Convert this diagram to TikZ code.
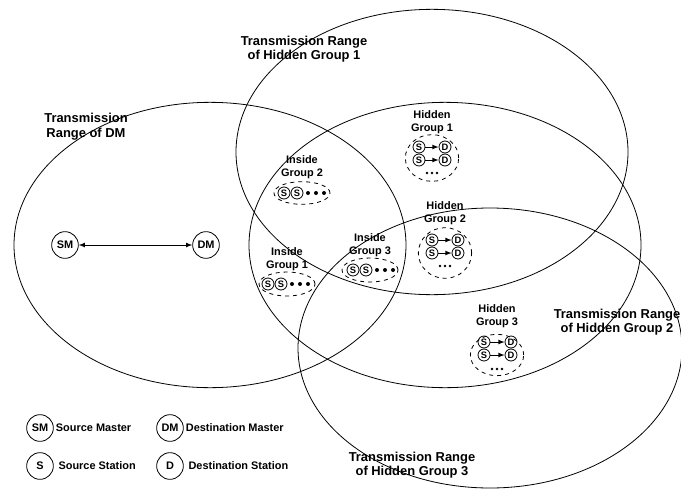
\documentclass[tikz,border=0pt]{standalone}
\usepackage{fontspec}
\setmainfont{Liberation Sans}
\usetikzlibrary{positioning}
\tikzset{
  master/.style={circle,draw,semithick,inner sep=0pt,minimum size=20pt,font=\fontsize{8.2}{8.2}\selectfont\bfseries},
  station/.style={circle,draw,inner sep=0pt,minimum size=9pt,font=\fontsize{7}{7}\selectfont\bfseries},
  rangetext/.style={align=center,font=\fontsize{9.7}{11}\selectfont\bfseries},
  grouptext/.style={align=center,font=\fontsize{8.2}{9.8}\selectfont\bfseries},
  legendtext/.style={font=\fontsize{8.2}{9.8}\selectfont\bfseries},
  groupline/.style={dashed,semithick},
}
\begin{document}
\begin{tikzpicture}[x=0.75pt,y=-0.75pt,semithick]
\useasboundingbox (0,0) rectangle (681,489);
% transmission ranges
\draw (210,245) ellipse [x radius=147pt,y radius=107pt];
\draw (432,152) ellipse [x radius=147pt,y radius=107pt];
\draw (445,245) ellipse [x radius=147pt,y radius=107pt];
\draw (490,348) ellipse [x radius=144pt,y radius=105pt];
\node[rangetext] (rdm) at (86,127) {Transmission\\Range of DM};
\node[rangetext] (rhg1) at (304,49) {Transmission Range\\of Hidden Group 1};
\node[rangetext] (rhg2) at (617,322) {Transmission Range\\of Hidden Group 2};
\node[rangetext] (rhg3) at (412,465) {Transmission Range\\of Hidden Group 3};
% masters
\node[master] (sm) at (65,245) {SM};
\node[master] (dm) at (206,245) {DM};
\draw[latex-latex] (sm) -- (dm);
% inside groups
\node[grouptext] (ig2) at (302,167) {Inside\\Group 2};
\draw[groupline] (302,193) ellipse [x radius=21pt,y radius=8.5pt];
\node[station] (ig2a) at (284,193) {S};
\node[station] (ig2b) at (297,193) {S};
\fill (308,193) circle (1.5pt) (316,193) circle (1.5pt) (324,193) circle (1.5pt);
\node[grouptext] (ig1) at (287,259) {Inside\\Group 1};
\draw[groupline] (287,284) ellipse [x radius=21pt,y radius=9pt];
\node[station] (ig1a) at (268,284) {S};
\node[station] (ig1b) at (281,284) {S};
\fill (292,284) circle (1.5pt) (300,284) circle (1.5pt) (308,284) circle (1.5pt);
\node[grouptext] (ig3) at (370,245) {Inside\\Group 3};
\draw[groupline] (370,270) ellipse [x radius=21pt,y radius=9pt];
\node[station] (ig3a) at (353,270) {S};
\node[station] (ig3b) at (366,270) {S};
\fill (377,270) circle (1.5pt) (385,270) circle (1.5pt) (393,270) circle (1.5pt);
% hidden groups
\node[grouptext] (hg1) at (432,122) {Hidden\\Group 1};
\draw[groupline] (432,158) ellipse [x radius=20pt,y radius=17.5pt];
\node[station] (hg1s1) at (419,147) {S};
\node[station] (hg1d1) at (445,147) {D};
\node[station] (hg1s2) at (419,160) {S};
\node[station] (hg1d2) at (445,160) {D};
\draw[-latex] (hg1s1) -- (hg1d1);
\draw[-latex] (hg1s2) -- (hg1d2);
\fill (427,173) circle (1pt) (432,173) circle (1pt) (437,173) circle (1pt);
\node[grouptext] (hg2) at (445,213) {Hidden\\Group 2};
\draw[groupline] (445,253) ellipse [x radius=20pt,y radius=19pt];
\node[station] (hg2s1) at (432,240) {S};
\node[station] (hg2d1) at (458,240) {D};
\node[station] (hg2s2) at (432,253) {S};
\node[station] (hg2d2) at (458,253) {D};
\draw[-latex] (hg2s1) -- (hg2d1);
\draw[-latex] (hg2s2) -- (hg2d2);
\fill (440,266) circle (1pt) (445,266) circle (1pt) (450,266) circle (1pt);
\node[grouptext] (hg3) at (497,316) {Hidden\\Group 3};
\draw[groupline] (497,355) ellipse [x radius=20pt,y radius=15.5pt];
\node[station] (hg3s1) at (484,342) {S};
\node[station] (hg3d1) at (511,342) {D};
\node[station] (hg3s2) at (484,355) {S};
\node[station] (hg3d2) at (511,355) {D};
\draw[-latex] (hg3s1) -- (hg3d1);
\draw[-latex] (hg3s2) -- (hg3d2);
\fill (492,369) circle (1pt) (497,369) circle (1pt) (502,369) circle (1pt);
% legend
\node[master] (lsm) at (40,428) {SM};
\node[legendtext,right=-2pt of lsm] (lsmt) {Source Master};
\node[master] (ldm) at (170,428) {DM};
\node[legendtext,right=-2pt of ldm] (ldmt) {Destination Master};
\node[master] (ls) at (40,466) {S};
\node[legendtext,right=0pt of ls] (lst) {Source Station};
\node[master] (ld) at (170,466) {D};
\node[legendtext,right=0pt of ld] (ldt) {Destination Station};
\end{tikzpicture}
\end{document}
